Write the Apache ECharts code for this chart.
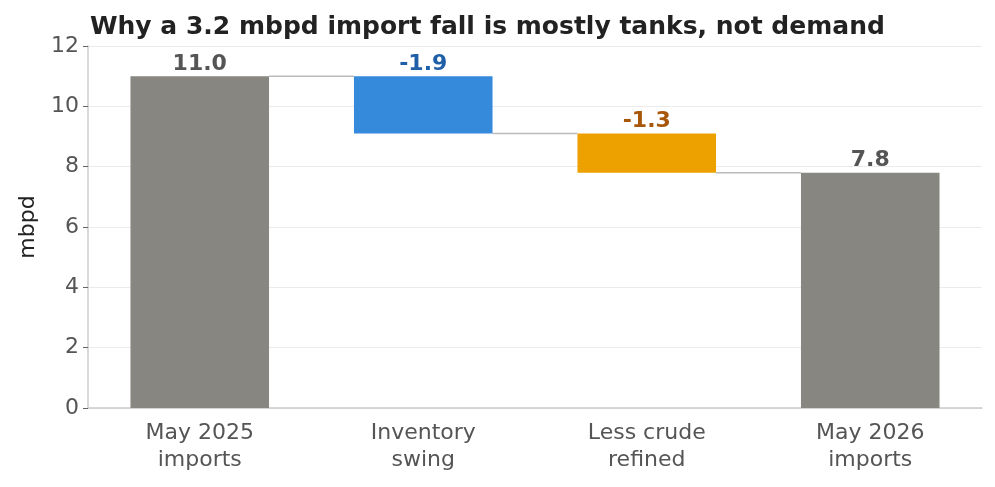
<!DOCTYPE html>
<html>
<head>
<meta charset="utf-8">
<script src="https://cdn.jsdelivr.net/npm/echarts@6/dist/echarts.min.js"></script>
<style>
  html, body { margin: 0; padding: 0; background: #fff; }
  #chart { width: 995px; height: 487px; }
</style>
</head>
<body>
<div id="chart"></div>
<script>
const categories = ['May 2025\nimports', 'Inventory\nswing', 'Less crude\nrefined', 'May 2026\nimports'];
const changes = [11.0, -1.9, -1.3, 7.8];
const isTotal = [true, false, false, true];
const yTicks = [0, 2, 4, 6, 8, 10, 12];

const barColors = ['#878680', '#368adc', '#eda100', '#878680'];
const labelColors = ['#555555', '#1f5fa8', '#a8570a', '#555555'];

// work out the waterfall pieces
let level = 0;
let bases = [], heights = [], levels = [];
changes.forEach(function (v, i) {
    if (isTotal[i]) {
        bases.push(0);
        heights.push(v);
        level = v;
    } else {
        let next = level + v;
        bases.push(Math.min(level, next));
        heights.push(Math.abs(v));
        level = next;
    }
    levels.push(+level.toFixed(2));
});
let connectors = [];
for (let i = 0; i < levels.length - 1; i++) {
    connectors.push([i, levels[i]]);
}

let chart = echarts.init(document.getElementById('chart'));
const font = 'DejaVu Sans';
const barFrac = 0.62;

let option = {
    animation: false,
    textStyle: { fontFamily: font },
    title: {
        text: 'Why a 3.2 mbpd import fall is mostly tanks, not demand',
        left: 85,
        top: 10,
        textStyle: { fontFamily: font, fontSize: 25, fontWeight: 'bold', color: '#222222' }
    },
    grid: { left: 88, right: 13, top: 46, bottom: 79, outerBoundsMode: 'none', containLabel: false },
    xAxis: {
        type: 'category',
        data: categories,
        axisLine: { lineStyle: { color: '#cccccc', width: 1.5 } },
        axisTick: { alignWithLabel: true, length: 5, lineStyle: { color: '#666666' } },
        axisLabel: { fontSize: 22, color: '#555555', lineHeight: 27, margin: 12, fontFamily: font }
    },
    yAxis: {
        type: 'value',
        min: yTicks[0],
        max: yTicks[yTicks.length - 1],
        interval: 2,
        name: 'mbpd',
        nameLocation: 'middle',
        nameGap: 49,
        nameTextStyle: { fontSize: 22, color: '#222222', fontFamily: font },
        axisLine: { show: true, lineStyle: { color: '#cccccc', width: 1.5 } },
        axisTick: { show: true, length: 5, lineStyle: { color: '#666666' } },
        axisLabel: { fontSize: 22, color: '#555555', margin: 9, fontFamily: font },
        splitLine: { lineStyle: { color: '#ebebeb', width: 1 } }
    },
    series: [
        {
            name: 'base',
            type: 'bar',
            stack: 'wf',
            barWidth: (barFrac * 100) + '%',
            itemStyle: { color: 'transparent' },
            silent: true,
            data: bases
        },
        {
            name: 'value',
            type: 'bar',
            stack: 'wf',
            barWidth: (barFrac * 100) + '%',
            data: heights.map(function (h, i) {
                return {
                    value: h,
                    itemStyle: { color: barColors[i] },
                    label: {
                        show: true,
                        position: 'top',
                        distance: 1,
                        formatter: changes[i].toFixed(1),
                        fontSize: 22,
                        fontWeight: 'bold',
                        color: labelColors[i],
                        fontFamily: font
                    }
                };
            })
        },
        {
            name: 'connector',
            type: 'custom',
            z: 1,
            data: connectors,
            encode: { x: 0, y: 1 },
            renderItem: function (params, api) {
                let p = api.coord([api.value(0), api.value(1)]);
                let w = api.size([1, 0])[0];
                let half = w * barFrac / 2;
                return {
                    type: 'line',
                    shape: { x1: p[0] + half, y1: p[1], x2: p[0] + w - half, y2: p[1] },
                    style: { stroke: '#bbbbbb', lineWidth: 1.5 }
                };
            }
        }
    ]
};
chart.setOption(option);
</script>
</body>
</html>
